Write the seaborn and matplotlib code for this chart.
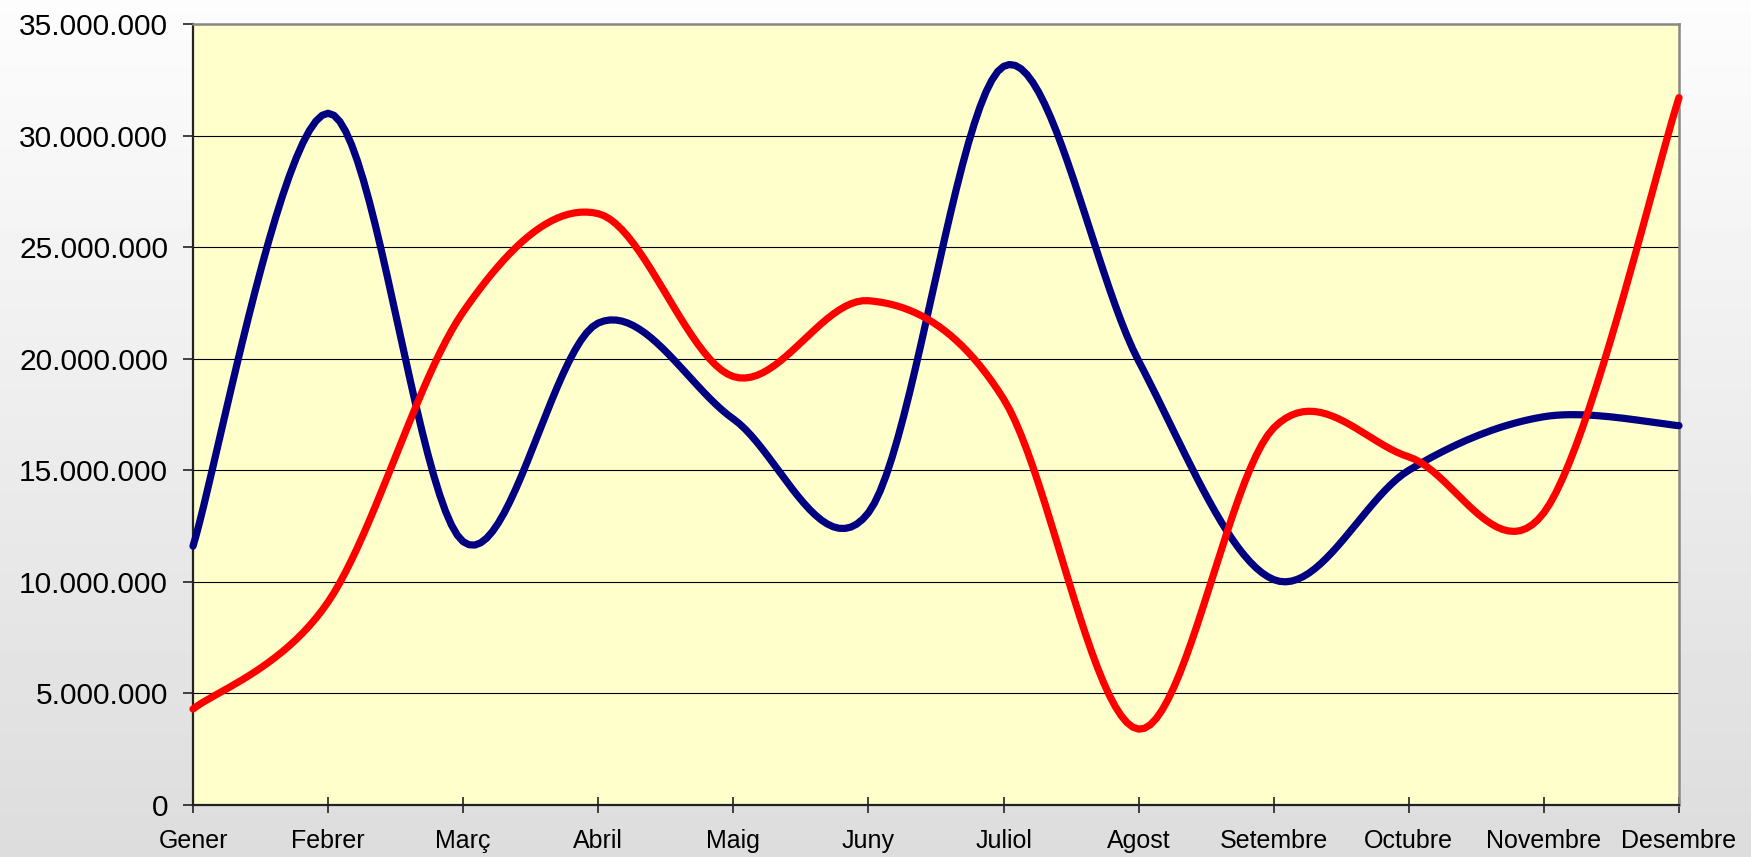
import numpy as np
import pandas as pd
import seaborn as sns
import matplotlib.pyplot as plt
from matplotlib.ticker import FuncFormatter

# Monthly values
mesos = ['Gener', 'Febrer', 'Març', 'Abril', 'Maig', 'Juny', 'Juliol',
         'Agost', 'Setembre', 'Octubre', 'Novembre', 'Desembre']
serie_blava = [11.6, 31.0, 11.8, 21.6, 17.3, 13.1, 33.1, 19.9, 10.1, 15.0, 17.4, 17.0]
serie_vermella = [4.3, 9.1, 22.1, 26.5, 19.2, 22.6, 18.2, 3.4, 16.9, 15.6, 13.1, 31.7]
escala = 1_000_000

sns.set_style('white')
plt.rcParams['font.family'] = ['Liberation Sans', 'DejaVu Sans']


def suavitza(vals, n=24):
    # Excel-style smoothed line: cubic Bezier through each point (Catmull-Rom tangents)
    p = np.column_stack([np.arange(len(vals)), np.asarray(vals, dtype=float) * escala])
    p_ext = np.vstack([p[0], p, p[-1]])
    xs, ys = [], []
    for i in range(len(p) - 1):
        p0, p1, p2, p3 = p_ext[i], p_ext[i + 1], p_ext[i + 2], p_ext[i + 3]
        c1 = p1 + (p2 - p0) / 6
        c2 = p2 - (p3 - p1) / 6
        t = np.linspace(0, 1, n)[(0 if i == 0 else 1):, None]
        b = (1 - t) ** 3 * p1 + 3 * (1 - t) ** 2 * t * c1 + 3 * (1 - t) * t ** 2 * c2 + t ** 3 * p2
        xs.extend(b[:, 0])
        ys.extend(b[:, 1])
    return pd.DataFrame({'x': xs, 'y': ys})


fig = plt.figure(figsize=(17.51, 8.57), dpi=100)

# grey gradient background of the chart area
fons = fig.add_axes([0, 0, 1, 1], zorder=-2)
grad = np.linspace(0.99, 0.865, 256).reshape(-1, 1)
fons.imshow(grad, cmap='gray', vmin=0, vmax=1, aspect='auto', extent=[0, 1, 0, 1])
fons.axis('off')

ax = fig.add_axes([193 / 1751, 1 - 805 / 857, (1679 - 193) / 1751, (805 - 24) / 857])
ax.set_facecolor('#FFFFCC')

for vals, color in [(serie_blava, '#000080'), (serie_vermella, '#FF0000')]:
    df = suavitza(vals)
    sns.lineplot(data=df, x='x', y='y', color=color, linewidth=5.2, sort=False,
                 estimator=None, ax=ax, solid_capstyle='round', clip_on=False, zorder=3)

ax.set_xlim(0, len(mesos) - 1)
ax.set_ylim(0, 35 * escala)
ax.set_xticks(range(len(mesos)))
ax.set_xticklabels(mesos)
ax.set_yticks(np.arange(0, 35.1, 5) * escala)
ax.yaxis.set_major_formatter(FuncFormatter(lambda v, pos: f'{int(round(v)):,}'.replace(',', '.')))
ax.set_xlabel('')
ax.set_ylabel('')

ax.grid(axis='y', color='black', linewidth=0.8)
ax.grid(axis='x', visible=False)
ax.set_axisbelow(True)

ax.tick_params(axis='y', direction='out', length=7, width=1.2, color='#222222',
               labelsize=21.5, labelcolor='black', pad=11, left=True)
ax.tick_params(axis='x', direction='inout', length=11, width=1.2, color='#222222',
               labelsize=18, labelcolor='black', pad=12, bottom=True)

for side in ['left', 'bottom']:
    ax.spines[side].set_color('#222222')
    ax.spines[side].set_linewidth(1.6)
for side in ['top', 'right']:
    ax.spines[side].set_color('#888888')
    ax.spines[side].set_linewidth(1.8)

fig.savefig('out.png', dpi=100)
